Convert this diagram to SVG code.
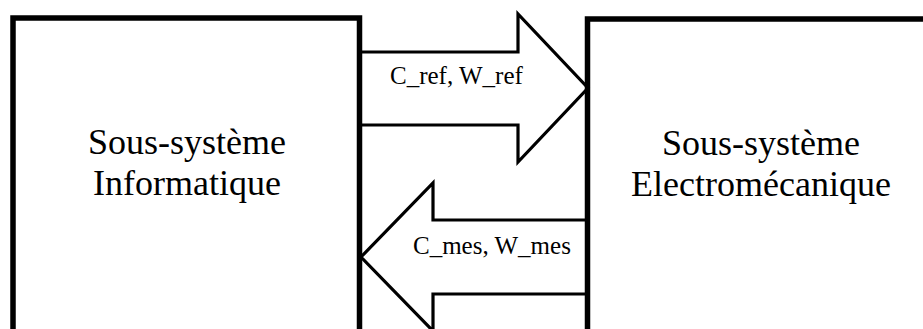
<svg xmlns="http://www.w3.org/2000/svg" width="923" height="329" viewBox="0 0 923 329">
<style>
.box{fill:none;stroke:#000;stroke-width:5.5}
.arr{fill:#fff;stroke:#000;stroke-width:3.2;stroke-linejoin:miter}
.big{font-family:"Liberation Serif","Times New Roman",serif;font-size:36px;fill:#000;text-anchor:middle}
.lbl{font-family:"Liberation Serif","Times New Roman",serif;font-size:25px;fill:#000}
</style>
<rect width="923" height="329" fill="#fff"/>
<g id="connectors">
<g id="arrow-ref">
<path class="arr" d="M360,52 H518 V14 L588,88 L518,162 V125 H360"/>
<text class="lbl" x="390" y="84">C_ref, W_ref</text>
</g>
<g id="arrow-mes">
<path class="arr" d="M588,220 H433 V183 L361,257 L433,331 V294 H588"/>
<text class="lbl" x="413" y="254">C_mes, W_mes</text>
</g>
</g>
<g id="informatique">
<path class="box" d="M13,340 V18 H359.5 V340"/>
<text class="big" x="187" y="154">Sous-système</text>
<text class="big" x="187" y="195">Informatique</text>
</g>
<g id="electromecanique">
<path class="box" d="M587.5,340 V19 H930"/>
<text class="big" x="761" y="155">Sous-système</text>
<text class="big" x="761" y="196">Electromécanique</text>
</g>
</svg>
